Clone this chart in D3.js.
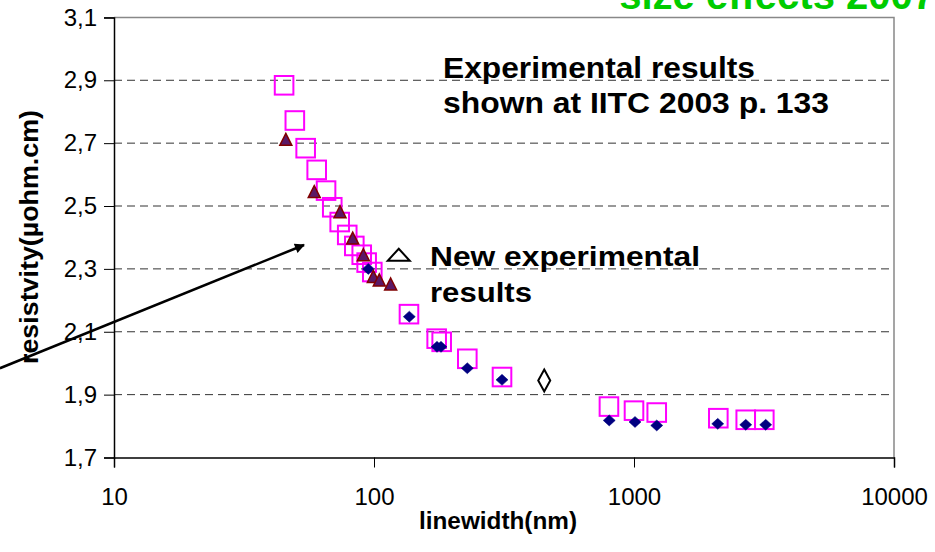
<!DOCTYPE html>
<html><head><meta charset="utf-8">
<script src="https://cdn.jsdelivr.net/npm/d3@7"></script>
<style>
html,body{margin:0;padding:0;background:#fff;}
svg{display:block;font-family:"Liberation Sans",Arial,sans-serif;}
</style></head>
<body><svg id="c" width="935" height="552"></svg>
<script>
// ---- data ----
const xTicks = [10, 100, 1000, 10000];
const yTicks = [1.7, 1.9, 2.1, 2.3, 2.5, 2.7, 2.9, 3.1];
const yTickLabels = ["1,7","1,9","2,1","2,3","2,5","2,7","2,9","3,1"];
const gridValues = [1.9, 2.1, 2.3, 2.5, 2.7, 2.9];

// IITC 2003 results (open magenta squares)
const sqWidth = [45.1, 49.6, 54.6, 60.2, 65.4, 69.1, 73.8, 78.9, 84.0, 89.7, 93.7, 98.5,
                 136.3, 174.2, 182.1, 228.5, 310.7, 801, 1000, 1223, 2110, 2690, 3171];
const sqRes   = [2.884, 2.772, 2.684, 2.615, 2.549, 2.496, 2.449, 2.408, 2.373, 2.345, 2.320, 2.290,
                 2.156, 2.078, 2.068, 2.014, 1.956, 1.862, 1.849, 1.843, 1.825, 1.820, 1.820];
// blue diamonds
const dmWidth = [95.1, 136.7, 174.7, 181.0, 228.5, 310.7, 803, 1009, 1223, 2099, 2690, 3210];
const dmRes   = [2.300, 2.148, 2.052, 2.052, 1.984, 1.947, 1.818, 1.813, 1.802, 1.807, 1.804, 1.804];
// new experimental results (triangles)
const trWidth = [45.8, 58.9, 74.0, 82.8, 91.0, 99.4, 104.8, 115.9];
const trRes   = [2.712, 2.546, 2.482, 2.398, 2.345, 2.276, 2.265, 2.252];
// single open markers
const openTri = [{w: 124.5, r: 2.345}];
const openDia = [{w: 451.6, r: 1.945}];
// arrow annotation (data units)
const arrowFrom = {w: 3.64, r: 1.984};
const arrowTo   = {w: 53.8, r: 2.376};

// ---- chart ----
const svg = d3.select("#c");
const x = d3.scaleLog().domain([10, 10000]).range([114, 894]);
const y = d3.scaleLinear().domain([1.7, 3.1]).range([457.5, 17.4]);

// green cut-off title text at top right
svg.append("text").attr("x", 935).attr("y", 9).attr("text-anchor", "end")
  .attr("font-size", 40).attr("font-weight", "bold").attr("fill", "#00cc00")
  .text("size effects 2007");

// plot border (top/right gray)
svg.append("path").attr("d", `M${x(10)},${y(3.1)}H${x(10000)}V${y(1.7)}`)
  .attr("fill", "none").attr("stroke", "#888").attr("stroke-width", 1.5);

// gridlines
svg.append("g").selectAll("line").data(gridValues).join("line")
  .attr("x1", x(10)).attr("x2", x(10000))
  .attr("y1", d => y(d)).attr("y2", d => y(d))
  .attr("stroke", "#333").attr("stroke-width", 1).attr("stroke-dasharray", "8,5");

// axes
const yAxis = d3.axisLeft(y).tickValues(yTicks).tickSize(10).tickFormat((d, i) => yTickLabels[i]);
const gy = svg.append("g").attr("transform", `translate(${x(10)},0)`).call(yAxis);
gy.select(".domain").attr("stroke", "#000").attr("stroke-width", 1.5);
gy.selectAll(".tick line").attr("stroke", "#000");
gy.selectAll(".tick text").attr("font-size", 24).attr("font-family", "Liberation Sans, Arial, sans-serif")
  .attr("fill", "#000").attr("x", -17);

const xAxis = d3.axisBottom(x).tickValues(xTicks).tickSize(10).tickFormat(d3.format("d"));
const gx = svg.append("g").attr("transform", `translate(0,${y(1.7)})`).call(xAxis);
gx.select(".domain").attr("stroke", "#000").attr("stroke-width", 1.5);
gx.selectAll(".tick line").attr("stroke", "#000");
gx.selectAll(".tick text").attr("font-size", 24).attr("font-family", "Liberation Sans, Arial, sans-serif")
  .attr("fill", "#000").attr("y", 30);

// axis titles
svg.append("text").attr("x", 498).attr("y", 529).attr("text-anchor", "middle")
  .attr("font-size", 23).attr("font-weight", "bold")
  .attr("textLength", 158).attr("lengthAdjust", "spacingAndGlyphs").text("linewidth(nm)");
svg.append("text").attr("transform", "translate(38,237) rotate(-90)").attr("text-anchor", "middle")
  .attr("font-size", 26).attr("font-weight", "bold")
  .attr("textLength", 254).attr("lengthAdjust", "spacingAndGlyphs").text("resistvity(µohm.cm)");

// squares
const sq = sqWidth.map((w, i) => ({w, r: sqRes[i]}));
svg.append("g").selectAll("rect").data(sq).join("rect")
  .attr("x", d => x(d.w) - 9.3).attr("y", d => y(d.r) - 9.3)
  .attr("width", 18.6).attr("height", 18.6)
  .attr("fill", "none").attr("stroke", "#ff00ff").attr("stroke-width", 2);

// diamonds
const dm = dmWidth.map((w, i) => ({w, r: dmRes[i]}));
svg.append("g").selectAll("path").data(dm).join("path")
  .attr("d", d => { const cx = x(d.w), cy = y(d.r);
    return `M${cx},${cy-5.5}L${cx+6},${cy}L${cx},${cy+5.5}L${cx-6},${cy}Z`; })
  .attr("fill", "#000080").attr("stroke", "#000080").attr("stroke-width", 0.5);

// triangles
const tr = trWidth.map((w, i) => ({w, r: trRes[i]}));
svg.append("g").selectAll("path").data(tr).join("path")
  .attr("d", d => { const cx = x(d.w), cy = y(d.r);
    return `M${cx},${cy-6}L${cx+6},${cy+6}L${cx-6},${cy+6}Z`; })
  .attr("fill", "#5a1866").attr("stroke", "#800000").attr("stroke-width", 1.5);

// open triangle
svg.append("g").selectAll("path").data(openTri).join("path")
  .attr("d", d => { const cx = x(d.w), cy = y(d.r);
    return `M${cx},${cy-6}L${cx+11},${cy+6}L${cx-11},${cy+6}Z`; })
  .attr("fill", "#fff").attr("stroke", "#000").attr("stroke-width", 2);

// open diamond
svg.append("g").selectAll("path").data(openDia).join("path")
  .attr("d", d => { const cx = x(d.w), cy = y(d.r);
    return `M${cx},${cy-11}L${cx+6},${cy}L${cx},${cy+11}L${cx-6},${cy}Z`; })
  .attr("fill", "#fff").attr("stroke", "#000").attr("stroke-width", 2);

// arrow
svg.append("defs").append("marker").attr("id", "ah").attr("viewBox", "0 0 10 10")
  .attr("refX", 9).attr("refY", 5).attr("markerWidth", 5).attr("markerHeight", 4)
  .attr("orient", "auto").append("path").attr("d", "M0,0L10,5L0,10Z").attr("fill", "#000");
svg.append("line").attr("x1", x(arrowFrom.w)).attr("y1", y(arrowFrom.r))
  .attr("x2", x(arrowTo.w)).attr("y2", y(arrowTo.r))
  .attr("stroke", "#000").attr("stroke-width", 2.5).attr("marker-end", "url(#ah)");

// annotations
const ann = svg.append("g").attr("font-weight", "bold").attr("fill", "#000");
ann.append("text").attr("x", 443).attr("y", 78).attr("font-size", 29)
  .attr("textLength", 312).attr("lengthAdjust", "spacingAndGlyphs").text("Experimental results");
ann.append("text").attr("x", 443).attr("y", 113).attr("font-size", 29)
  .attr("textLength", 386).attr("lengthAdjust", "spacingAndGlyphs").text("shown at IITC 2003 p. 133");
ann.append("text").attr("x", 430).attr("y", 266).attr("font-size", 28)
  .attr("textLength", 270).attr("lengthAdjust", "spacingAndGlyphs").text("New experimental");
ann.append("text").attr("x", 430).attr("y", 302).attr("font-size", 28)
  .attr("textLength", 102).attr("lengthAdjust", "spacingAndGlyphs").text("results");
</script></body></html>
